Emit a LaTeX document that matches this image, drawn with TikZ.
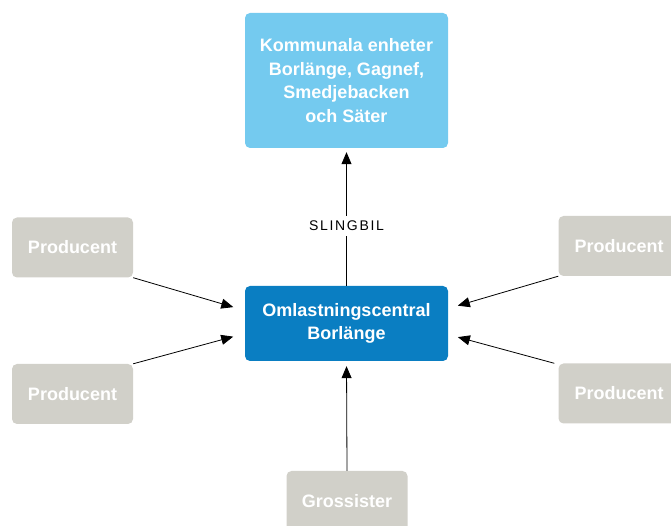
\documentclass[tikz,border=0pt]{standalone}
\usepackage{fontspec}
\setmainfont{Liberation Sans}
\usetikzlibrary{arrows.meta}
\definecolor{ljusbla}{HTML}{74CAEF}
\definecolor{morkbla}{HTML}{0A7EC2}
\definecolor{gra}{HTML}{D1D0C9}

\begin{document}
\begin{tikzpicture}[x=1pt,y=1pt,
    box/.style={rectangle, rounded corners=5pt, text=white, align=center, inner sep=0pt,
      font=\fontsize{18}{23.5}\selectfont\bfseries},
    prodbox/.style={box, fill=gra, minimum width=121pt, minimum height=60pt},
    pil/.style={-{Triangle[length=12pt,width=10pt]}, line width=0.8pt}]
                \useasboundingbox (0,0) rectangle (671,526);
                \clip (0,0) rectangle (671,526);
                % Kommunala enheter and the central
                \node[box, fill=ljusbla, minimum width=203pt, minimum height=135pt] (kommun) at (346.5,445.5) {Kommunala enheter\\Borlänge, Gagnef,\\Smedjebacken\\och Säter};
                \node[box, fill=morkbla, minimum width=203pt, minimum height=75pt] (central) at (346.5,202.5) {Omlastningscentral\\Borlänge};
                
                % Producenter
                \node[prodbox] (prodVU) at (72.5,278.5) {Producent};
                \node[prodbox] (prodVN) at (72.5,132) {Producent};
                \node[prodbox] (prodHU) at (619,280) {Producent};
                \node[prodbox] (prodHN) at (619,132.5) {Producent};
                
                % Grossister
                \node[prodbox] (gross) at (347,25) {Grossister};
                
                % Deliveries to the central
                \draw[pil, shorten >=12pt] (prodVU.south east) -- ([yshift=13pt]central.west);
                \draw[pil, shorten >=12pt] (prodVN.north east) -- ([yshift=-10pt]central.west);
                \draw[pil, shorten >=10pt] (prodHU.south west) -- ([yshift=15pt]central.east);
                \draw[pil, shorten >=10pt] ([xshift=-4pt]prodHN.north west) -- ([yshift=-11pt]central.east);
                \draw[pil, shorten >=5pt] (gross.north) -- (central.south);
                
                % Slingbil
                \draw[pil, shorten >=4pt] (central.north) -- (kommun.south)
                    node[pos=0.435, fill=white, inner ysep=5pt, inner xsep=2pt, font=\fontsize{14}{16}\selectfont\addfontfeature{LetterSpace=12}] (slingbil) {SLINGBIL};
\end{tikzpicture}
\end{document}
